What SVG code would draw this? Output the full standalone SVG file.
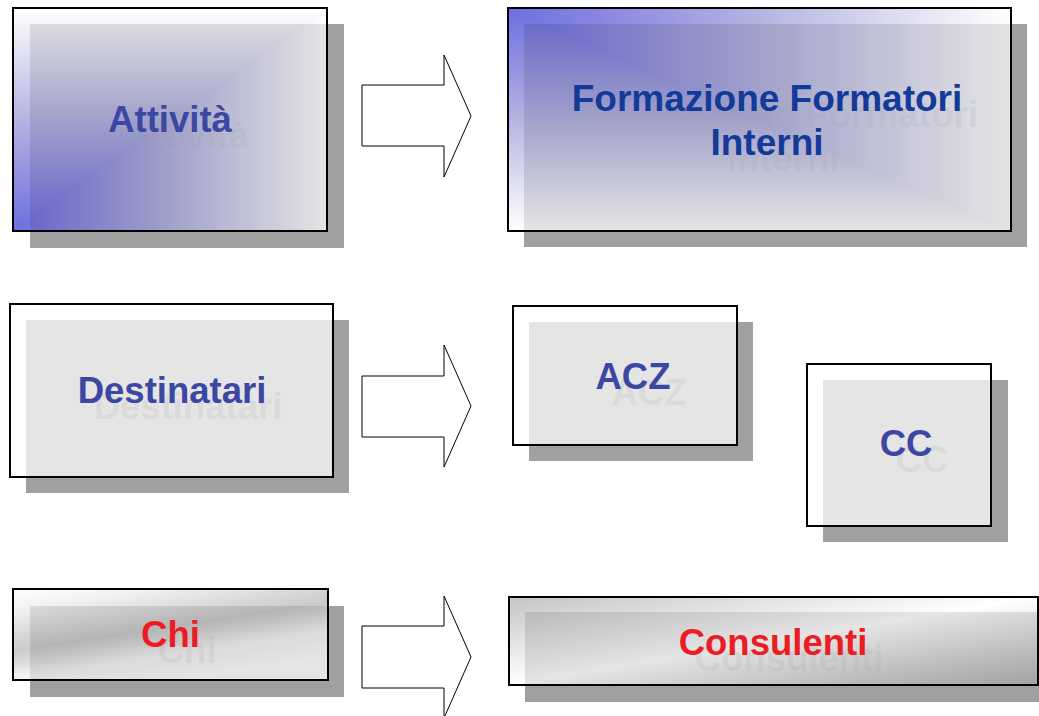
<svg xmlns="http://www.w3.org/2000/svg" width="1039" height="716" viewBox="0 0 1039 716">
  <style>
    .shadow { fill: #a0a0a0; }
    .dim { fill: #000000; fill-opacity: 0.1; }
    .frame { fill: none; stroke: #000000; stroke-width: 2; }
    .lbl { font-family: "Liberation Sans", Arial, sans-serif; font-weight: bold; font-size: 36.5px; text-anchor: middle; }
    .tsh { fill: #a0a0a8; fill-opacity: 0.16; }
    .blue { fill: #3b47a3; }
    .navy { fill: #133a98; }
    .red { fill: #ec1c24; }
    .arrow { fill: #ffffff; stroke: #000000; stroke-width: 1; stroke-linejoin: miter; }
  </style>
  <defs>
    <linearGradient id="g1v" gradientUnits="userSpaceOnUse" x1="0" y1="231" x2="0" y2="8">
      <stop offset="0" stop-color="#6e6ee0"/>
      <stop offset="0.5" stop-color="#b4b4e2"/>
      <stop offset="1" stop-color="#ffffff"/>
    </linearGradient>
    <linearGradient id="g1h" gradientUnits="userSpaceOnUse" x1="13" y1="0" x2="327" y2="0">
      <stop offset="0" stop-color="#6e6ee0"/>
      <stop offset="0.5" stop-color="#b4b4e2"/>
      <stop offset="1" stop-color="#ffffff"/>
    </linearGradient>
    <linearGradient id="g2h" gradientUnits="userSpaceOnUse" x1="508" y1="0" x2="1011" y2="0">
      <stop offset="0" stop-color="#6e6ee0"/>
      <stop offset="0.5" stop-color="#b4b4e2"/>
      <stop offset="1" stop-color="#ffffff"/>
    </linearGradient>
    <linearGradient id="g2v" gradientUnits="userSpaceOnUse" x1="0" y1="8" x2="0" y2="231">
      <stop offset="0" stop-color="#6e6ee0"/>
      <stop offset="0.5" stop-color="#b4b4e2"/>
      <stop offset="1" stop-color="#ffffff"/>
    </linearGradient>
    <linearGradient id="gChi" x1="0" y1="0" x2="0.53" y2="1">
      <stop offset="0" stop-color="#ffffff"/>
      <stop offset="0.18" stop-color="#f2f2f2"/>
      <stop offset="0.53" stop-color="#cacaca"/>
      <stop offset="0.62" stop-color="#d8d8d8"/>
      <stop offset="0.76" stop-color="#f4f4f4"/>
      <stop offset="1" stop-color="#ffffff"/>
    </linearGradient>
    <linearGradient id="gCons" x1="0" y1="0" x2="1" y2="1">
      <stop offset="0" stop-color="#c4c4c4"/>
      <stop offset="0.5" stop-color="#ffffff"/>
      <stop offset="1" stop-color="#b4b4b4"/>
    </linearGradient>
  </defs>

  <g id="node-attivita">
    <rect class="shadow" x="30" y="24" width="314" height="224"/>
    <rect x="13" y="8" width="314" height="223" fill="url(#g1h)"/>
    <polygon points="13,231 13,8 327,8" fill="url(#g1v)"/>
    <rect class="dim" x="30" y="24" width="297" height="207"/>
    <rect class="frame" x="13" y="8" width="314" height="223"/>
    <text class="lbl tsh" x="187" y="148">Attività</text>
    <text class="lbl blue" x="170" y="132">Attività</text>
  </g>

  <g id="node-formazione">
    <rect class="shadow" x="524" y="24" width="503" height="223"/>
    <rect x="508" y="8" width="503" height="223" fill="url(#g2h)"/>
    <polygon points="508,8 1011,231 508,231" fill="url(#g2v)"/>
    <rect class="dim" x="524" y="24" width="487" height="207"/>
    <rect class="frame" x="508" y="8" width="503" height="223"/>
    <text class="lbl tsh" x="783" y="127" style="font-size:37px">Formazione Formatori</text>
    <text class="lbl tsh" x="783" y="171" style="font-size:37px">Interni</text>
    <text class="lbl navy" x="767" y="111" style="font-size:37px">Formazione Formatori</text>
    <text class="lbl navy" x="767" y="155" style="font-size:37px">Interni</text>
  </g>

  <g id="node-destinatari">
    <rect class="shadow" x="26" y="320" width="323" height="173"/>
    <rect x="10" y="304" width="323" height="173" fill="#ffffff"/>
    <rect class="dim" x="26" y="320" width="307" height="157"/>
    <rect class="frame" x="10" y="304" width="323" height="173"/>
    <text class="lbl tsh" x="188" y="419">Destinatari</text>
    <text class="lbl blue" x="172" y="403">Destinatari</text>
  </g>

  <g id="node-acz">
    <rect class="shadow" x="529" y="322" width="224" height="139"/>
    <rect x="513" y="306" width="224" height="139" fill="#ffffff"/>
    <rect class="dim" x="529" y="322" width="208" height="123"/>
    <rect class="frame" x="513" y="306" width="224" height="139"/>
    <text class="lbl tsh" x="649" y="405">ACZ</text>
    <text class="lbl blue" x="633" y="389">ACZ</text>
  </g>

  <g id="node-cc">
    <rect class="shadow" x="823" y="380" width="185" height="162"/>
    <rect x="807" y="364" width="184" height="162" fill="#ffffff"/>
    <rect class="dim" x="823" y="380" width="168" height="146"/>
    <rect class="frame" x="807" y="364" width="184" height="162"/>
    <text class="lbl tsh" x="922" y="472">CC</text>
    <text class="lbl blue" x="906" y="456">CC</text>
  </g>

  <g id="node-chi">
    <rect class="shadow" x="30" y="606" width="314" height="91"/>
    <rect x="13" y="589" width="315" height="91" fill="url(#gChi)"/>
    <rect class="dim" x="30" y="606" width="298" height="74"/>
    <rect class="frame" x="13" y="589" width="315" height="91"/>
    <text class="lbl tsh" x="187" y="663">Chi</text>
    <text class="lbl red" x="170.5" y="647">Chi</text>
  </g>

  <g id="node-consulenti">
    <rect class="shadow" x="525" y="612" width="520" height="90"/>
    <rect x="509" y="597" width="529" height="88" fill="url(#gCons)"/>
    <rect class="dim" x="525" y="612" width="513" height="73"/>
    <rect class="frame" x="509" y="597" width="529" height="88"/>
    <text class="lbl tsh" x="789" y="671">Consulenti</text>
    <text class="lbl red" x="773" y="655">Consulenti</text>
  </g>

  <g id="connectors">
    <path class="arrow" d="M362,85 H444 V55 L471,116 L444,177 V146 H362 Z"/>
    <path class="arrow" d="M362,376 H444 V345 L471,406 L444,467 V437 H362 Z"/>
    <path class="arrow" d="M362,626 H444 V596 L471,657 L444,718 V688 H362 Z"/>
  </g>
</svg>
